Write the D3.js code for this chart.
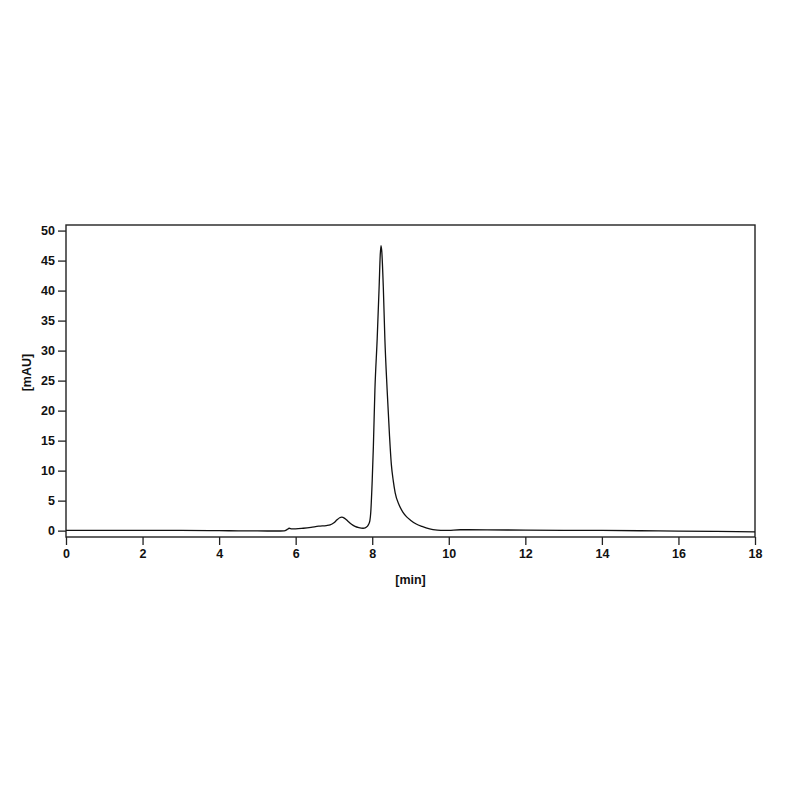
<!DOCTYPE html>
<html>
<head>
<meta charset="utf-8">
<script src="https://cdn.jsdelivr.net/npm/d3@7"></script>
<style>
	body { margin: 0; background: #fff; }
	#chart { width: 800px; height: 800px; }
	.axis text { font-family: "Liberation Sans", Arial, sans-serif; font-weight: bold; font-size: 12.5px; fill: #111; }
	.axis-label { font-family: "Liberation Sans", Arial, sans-serif; font-weight: bold; font-size: 12.5px; fill: #111; }
</style>
</head>
<body>
<div id="chart"></div>
<script>
// retention time [min] and signal [mAU]
var times = [0, 1, 2, 3, 4, 4.5, 5, 5.5, 5.7, 5.78, 5.83, 5.9, 6.0, 6.2, 6.4, 6.6, 6.8, 6.9, 7.0, 7.08, 7.15, 7.2, 7.28, 7.36, 7.45, 7.55, 7.65, 7.76, 7.83, 7.87, 7.91, 7.94, 7.96, 8.0, 8.03, 8.07, 8.13, 8.18, 8.21, 8.23, 8.25, 8.29, 8.33, 8.39, 8.45, 8.5, 8.55, 8.6, 8.7, 8.8, 8.9, 9.0, 9.15, 9.3, 9.5, 9.7, 9.85, 10.0, 10.3, 11, 12, 13, 14, 15, 16, 17, 18];
var signal = [0.05, 0.05, 0.04, 0.03, 0.0, -0.03, -0.05, -0.06, -0.03, 0.2, 0.4, 0.3, 0.3, 0.4, 0.55, 0.75, 0.85, 0.95, 1.3, 1.8, 2.15, 2.25, 2.05, 1.6, 1.1, 0.7, 0.5, 0.4, 0.5, 0.7, 1.1, 1.7, 2.9, 8.4, 14, 23.4, 32, 40.5, 46, 47.5, 46.5, 40.5, 32, 23.4, 16, 11, 8.3, 6.3, 4.3, 3.1, 2.3, 1.75, 1.1, 0.7, 0.3, 0.1, 0.03, 0.05, 0.15, 0.12, 0.1, 0.06, 0.03, -0.02, -0.07, -0.13, -0.2];
var xTicks = [0, 2, 4, 6, 8, 10, 12, 14, 16, 18];
var yTicks = [0, 5, 10, 15, 20, 25, 30, 35, 40, 45, 50];

var margin = {top: 225, right: 45, bottom: 263, left: 66},
		width = 800 - margin.left - margin.right,
		height = 800 - margin.top - margin.bottom;

var data = times.map(function(t, i) { return {t: t, v: signal[i]}; });

var xScale = d3.scaleLinear().domain([0, 18]).range([0, width]);
var yScale = d3.scaleLinear().domain([-1.06, 50.93]).range([height, 0]);

var svg = d3.select("#chart").append("svg")
		.attr("width", 800)
		.attr("height", 800);

var g = svg.append("g")
		.attr("transform", "translate(" + margin.left + "," + margin.top + ")");

// x axis at the bottom of the frame, y ticks on the left edge
g.append("g")
		.attr("class", "x axis")
		.attr("transform", "translate(0," + height + ")")
		.call(d3.axisBottom(xScale).tickValues(xTicks).tickSize(8).tickPadding(4).tickFormat(d3.format("d")));

g.append("g")
		.attr("class", "y axis")
		.call(d3.axisLeft(yScale).tickValues(yTicks).tickSize(8).tickPadding(3).tickFormat(d3.format("d")));

g.selectAll(".domain").remove();
g.selectAll(".tick line").attr("stroke", "#222").attr("stroke-width", 1.3);

// frame
g.append("rect")
		.attr("width", width)
		.attr("height", height)
		.attr("fill", "none")
		.attr("stroke", "#222")
		.attr("stroke-width", 1.4);

var line = d3.line()
		.x(function(d) { return xScale(d.t); })
		.y(function(d) { return yScale(d.v); })
		.curve(d3.curveMonotoneX);

g.append("path")
		.datum(data)
		.attr("fill", "none")
		.attr("stroke", "#111")
		.attr("stroke-width", 1.3)
		.attr("d", line);

g.append("text")
		.attr("class", "axis-label")
		.attr("x", width / 2)
		.attr("y", height + 47)
		.attr("text-anchor", "middle")
		.text("[min]");

g.append("text")
		.attr("class", "axis-label")
		.attr("transform", "translate(-35," + (yScale(25) - 8) + ") rotate(-90)")
		.attr("text-anchor", "middle")
		.text("[mAU]");
</script>
</body>
</html>
